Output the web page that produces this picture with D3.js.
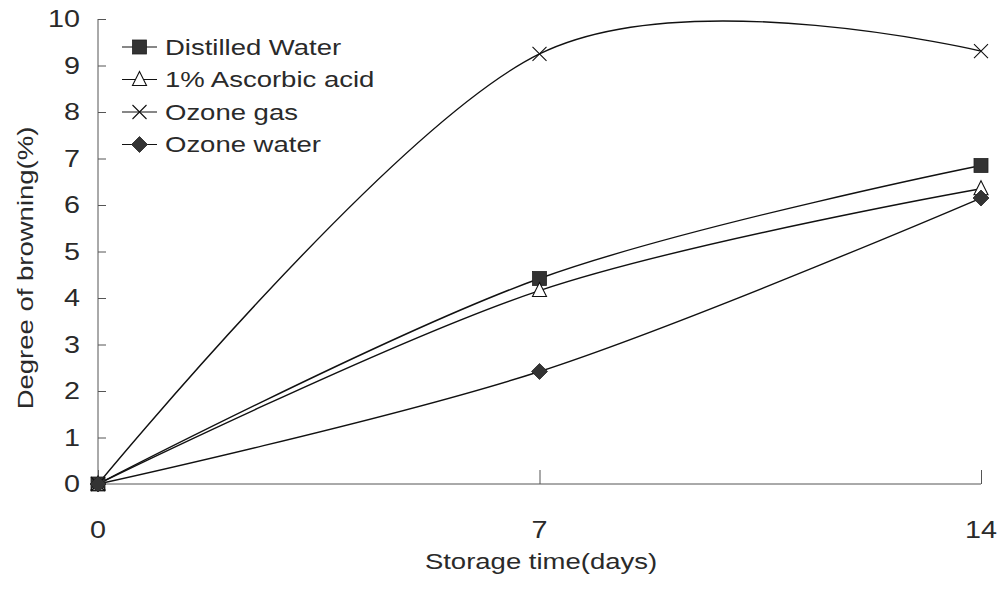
<!DOCTYPE html>
<html>
<head>
<meta charset="utf-8">
<script src="https://cdn.jsdelivr.net/npm/d3@7"></script>
<style>
  html, body { margin: 0; padding: 0; background: #fff; }
  svg { display: block; }
  text { font-family: "Liberation Sans", Arial, sans-serif; fill: #2a2a2a; }
</style>
</head>
<body>
<svg id="chart" width="1002" height="593"></svg>
<script>
// Storage time (days)
const days = [0, 7, 14];
// Degree of browning (%) for each treatment
const distilledWater = [0, 4.42, 6.85];
const ascorbicAcid = [0, 4.16, 6.35];
const ozoneGas = [0, 9.25, 9.31];
const ozoneWater = [0, 2.42, 6.15];
const seriesNames = ["Distilled Water", "1% Ascorbic acid", "Ozone gas", "Ozone water"];
const yTicks = [0, 1, 2, 3, 4, 5, 6, 7, 8, 9, 10];

const series = [
  { name: seriesNames[0], values: distilledWater, marker: "square" },
  { name: seriesNames[1], values: ascorbicAcid, marker: "triangle" },
  { name: seriesNames[2], values: ozoneGas, marker: "cross" },
  { name: seriesNames[3], values: ozoneWater, marker: "diamond" }
];

const svg = d3.select("#chart");
const plotLeft = 98, plotRight = 981, plotTop = 19, plotBottom = 484;
// wide lettering: glyphs are stretched horizontally
const stretch = 1.25;

const x = d3.scaleLinear().domain([0, 14]).range([plotLeft, plotRight]);
const y = d3.scaleLinear().domain([0, 10]).range([plotBottom, plotTop]);

const axisColor = "#555";

function label(parent, px, py, txt, size, anchor) {
  return parent.append("text")
    .attr("transform", `translate(${px},${py}) scale(${stretch},1)`)
    .attr("text-anchor", anchor)
    .style("font-size", size + "px")
    .text(txt);
}

// y axis with inward ticks
const yAxis = svg.append("g").attr("transform", `translate(${plotLeft},0)`)
  .call(d3.axisRight(y).tickValues(yTicks).tickSize(8).tickFormat(""));
yAxis.select(".domain").attr("stroke", axisColor).attr("d", `M0,${plotBottom}V${plotTop}`);
yAxis.selectAll(".tick line").attr("stroke", axisColor);
const yLabels = svg.append("g");
yTicks.forEach(t => label(yLabels, 80, y(t), t, 23, "end").attr("dy", "0.36em"));

// x axis with upward ticks
const xAxis = svg.append("g").attr("transform", `translate(0,${plotBottom})`)
  .call(d3.axisTop(x).tickValues(days).tickSize(14).tickFormat(""));
xAxis.select(".domain").attr("stroke", axisColor).attr("d", `M${plotLeft},0H${plotRight}`);
xAxis.selectAll(".tick line").attr("stroke", axisColor);
const xLabels = svg.append("g");
days.forEach(d => label(xLabels, x(d), 530, d, 23, "middle").attr("dy", "0.36em"));

// axis titles
label(svg, 541, 569, "Storage time(days)", 22, "middle");
svg.append("text")
  .attr("transform", `translate(33,268) rotate(-90) scale(${stretch},1)`)
  .attr("text-anchor", "middle").style("font-size", "22px")
  .text("Degree of browning(%)");

// smooth lines
const line = d3.line()
  .x((d, i) => x(days[i]))
  .y(d => y(d))
  .curve(d3.curveCardinal.tension(0));

svg.append("g").selectAll("path").data(series).join("path")
  .attr("d", s => line(s.values))
  .attr("fill", "none").attr("stroke", "#111").attr("stroke-width", 1.4);

function drawMarker(g, type) {
  const dark = "#333";
  if (type === "square") {
    g.append("rect").attr("x", -7).attr("y", -7).attr("width", 14).attr("height", 14)
      .attr("fill", dark).attr("stroke", "#222").attr("stroke-width", 0.8);
  } else if (type === "triangle") {
    g.append("path").attr("d", "M0,-8L7,6L-7,6Z")
      .attr("fill", "#fff").attr("stroke", "#111").attr("stroke-width", 1.1);
  } else if (type === "cross") {
    g.append("path").attr("d", "M-7,-7L7,7M-7,7L7,-7")
      .attr("stroke", "#111").attr("stroke-width", 1.1);
  } else if (type === "diamond") {
    g.append("path").attr("d", "M0,-8L8,0L0,8L-8,0Z")
      .attr("fill", dark).attr("stroke", "#222").attr("stroke-width", 0.8);
  }
}

series.forEach(s => {
  s.values.forEach((v, i) => {
    const g = svg.append("g").attr("transform", `translate(${x(days[i])},${y(v)})`);
    drawMarker(g, s.marker);
  });
});

// legend
const legend = svg.append("g");
series.forEach((s, i) => {
  const ly = 47 + i * 32.5;
  const g = legend.append("g").attr("transform", `translate(0,${ly})`);
  g.append("line").attr("x1", 122).attr("x2", 157).attr("y1", 0).attr("y2", 0)
    .attr("stroke", "#111").attr("stroke-width", 1.2);
  const m = g.append("g").attr("transform", "translate(139.5,0)");
  drawMarker(m, s.marker);
  label(g, 165, 0, s.name, 22, "start").attr("dy", "0.36em");
});
</script>
</body>
</html>
